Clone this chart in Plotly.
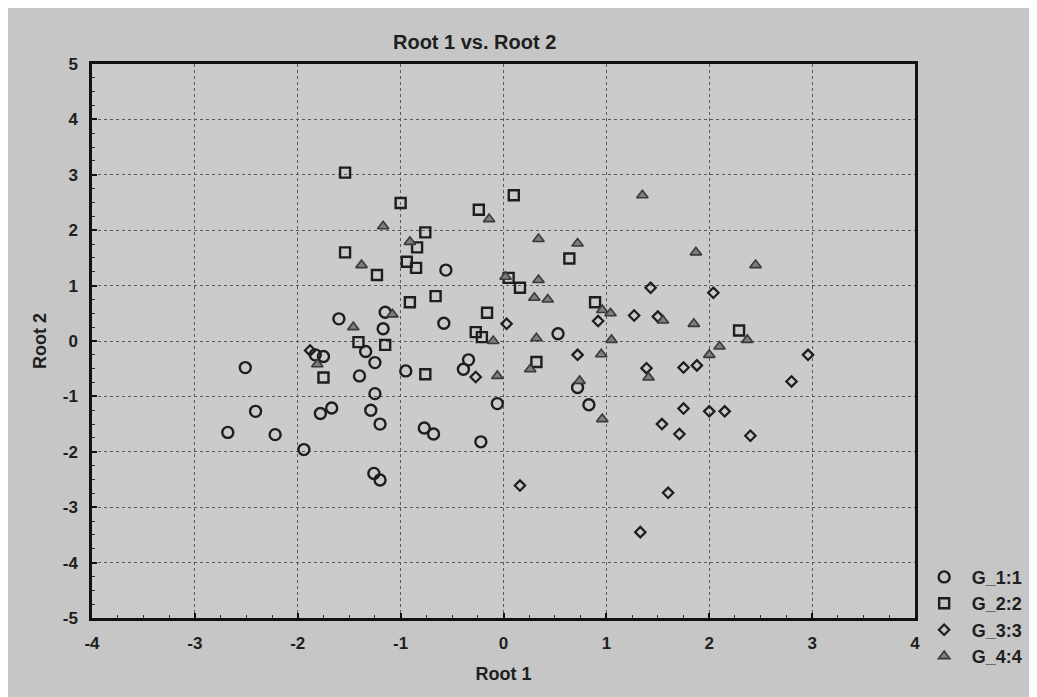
import plotly.graph_objects as go

# Data
g1_x = [-1.60, -1.15, -1.17, -0.56, -0.58, -1.83, -1.75, -1.34, -1.25, -2.51, -1.40, -0.95,
        -0.34, -0.39, -1.25, -0.06, -2.41, -1.67, -1.78, -1.29, -2.68, -2.22, -1.20, -0.77,
        -0.68, -0.22, -1.94, -1.26, -1.20, 0.53, 0.72, 0.83]
g1_y = [0.40, 0.52, 0.22, 1.28, 0.32, -0.25, -0.28, -0.19, -0.39, -0.48, -0.63, -0.54,
        -0.34, -0.51, -0.95, -1.13, -1.27, -1.21, -1.31, -1.25, -1.65, -1.69, -1.50, -1.57,
        -1.68, -1.82, -1.96, -2.39, -2.51, 0.13, -0.84, -1.15]

g2_x = [-1.54, -1.00, -0.24, 0.10, -0.76, -0.84, -1.54, -0.94, -0.85, -1.23, -0.66, -0.91,
        -0.16, -0.27, -0.21, -1.41, -1.15, -1.75, -0.76, 0.64, 0.05, 0.16, 0.89, 2.29, 0.32]
g2_y = [3.04, 2.49, 2.37, 2.63, 1.96, 1.69, 1.60, 1.43, 1.32, 1.19, 0.81, 0.70,
        0.51, 0.16, 0.07, -0.02, -0.07, -0.66, -0.60, 1.49, 1.14, 0.96, 0.70, 0.19, -0.38]

g3_x = [-1.88, -0.27, 0.03, 0.92, 1.27, 1.43, 1.50, 2.04, 0.72, 1.39, 1.75, 1.88,
        1.75, 2.00, 2.15, 1.54, 1.71, 0.16, 1.60, 1.33, 2.96, 2.80, 2.40]
g3_y = [-0.17, -0.65, 0.31, 0.36, 0.46, 0.96, 0.44, 0.87, -0.25, -0.49, -0.48, -0.44,
        -1.22, -1.27, -1.27, -1.50, -1.68, -2.61, -2.74, -3.45, -0.25, -0.73, -1.71]

g4_x = [-0.14, -1.17, -0.91, -1.38, -1.08, -1.46, -0.10, -1.81, -0.06, 1.35, 0.34, 0.72,
        1.87, 2.45, 0.34, 0.30, 0.43, 0.96, 1.04, 1.55, 1.85, 2.37, 2.10, 2.00, 0.32,
        1.05, 0.95, 0.26, 0.74, 1.41, 0.96, 0.02]
g4_y = [2.20, 2.07, 1.79, 1.37, 0.48, 0.25, 0.00, -0.42, -0.63, 2.63, 1.84, 1.76,
        1.60, 1.37, 1.10, 0.78, 0.75, 0.56, 0.50, 0.37, 0.31, 0.02, -0.10, -0.25, 0.05,
        0.02, -0.24, -0.51, -0.72, -0.66, -1.41, 1.16]

group_names = ["G_1:1", "G_2:2", "G_3:3", "G_4:4"]

x_tick_vals = [-4, -3, -2, -1, 0, 1, 2, 3, 4]
x_tick_text = ["-4", "-3", "-2", "-1", "0", "1", "2", "3", "4"]
y_tick_vals = [-5, -4, -3, -2, -1, 0, 1, 2, 3, 4, 5]
y_tick_text = ["-5", "-4", "-3", "-2", "-1", "0", "1", "2", "3", "4", "5"]

FONT = "Liberation Sans, Arial, sans-serif"
INK = "#1e1e1e"

fig = go.Figure()
fig.add_trace(go.Scatter(x=g1_x, y=g1_y, mode="markers", name=group_names[0],
                         marker=dict(symbol="circle-open", size=11, color=INK,
                                     line=dict(width=2.4, color=INK))))
fig.add_trace(go.Scatter(x=g2_x, y=g2_y, mode="markers", name=group_names[1],
                         marker=dict(symbol="square-open", size=10, color=INK,
                                     line=dict(width=2.4, color=INK))))
fig.add_trace(go.Scatter(x=g3_x, y=g3_y, mode="markers", name=group_names[2],
                         marker=dict(symbol="diamond-open", size=8, color=INK,
                                     line=dict(width=2.2, color=INK))))
fig.add_trace(go.Scatter(x=g4_x, y=g4_y, mode="markers", name=group_names[3],
                         marker=dict(symbol="triangle-up", size=10, color="#7e7e7e",
                                     line=dict(width=1.6, color="#3a3a3a"))))

TICKFONT = dict(family=FONT, size=17, color=INK, weight="bold")
TITLEFONT = dict(family=FONT, size=18, color=INK, weight="bold")

axis_common = dict(
    showgrid=True, gridcolor="#5a5a5a", gridwidth=1, griddash="dot",
    zeroline=False, showline=True, linecolor="#111", linewidth=2.5, mirror=True,
    ticks="inside", ticklen=5, tickwidth=2, tickcolor="#111",
    tickfont=TICKFONT, tickmode="array",
)

fig.update_xaxes(range=[-4, 4], tickvals=x_tick_vals, ticktext=x_tick_text, ticklabelstandoff=8,
                 title=dict(text="Root 1", font=TITLEFONT, standoff=16),
                 minor=dict(ticks="inside", ticklen=3, tickcolor="#333", tickwidth=1,
                            showgrid=False, tickmode="linear", tick0=-4, dtick=0.25),
                 **axis_common)
fig.update_yaxes(range=[-5, 5], tickvals=y_tick_vals, ticktext=y_tick_text, ticklabelstandoff=8,
                 title=dict(text="Root 2", font=TITLEFONT, standoff=12),
                 minor=dict(ticks="inside", ticklen=3, tickcolor="#333", tickwidth=1,
                            showgrid=False, tickmode="linear", tick0=-5, dtick=0.25),
                 **axis_common)

fig.update_layout(
    width=1037, height=697,
    margin=dict(l=84, r=130, t=56, b=87),
    paper_bgcolor="#c6c6c6",
    plot_bgcolor="#cbcbcb",
    title=dict(text="<b>Root 1 vs. Root 2</b>", x=0.450, xanchor="center", y=0.951, yanchor="middle",
               font=dict(family=FONT, size=20, color=INK)),
    legend=dict(x=1.002, xanchor="left", y=0.107, yanchor="top",
                font=dict(family=FONT, size=18, color=INK, weight="bold"),
                bgcolor="rgba(0,0,0,0)", itemwidth=45, tracegroupgap=0),
    showlegend=True,
)

fig.write_html("out.html")
